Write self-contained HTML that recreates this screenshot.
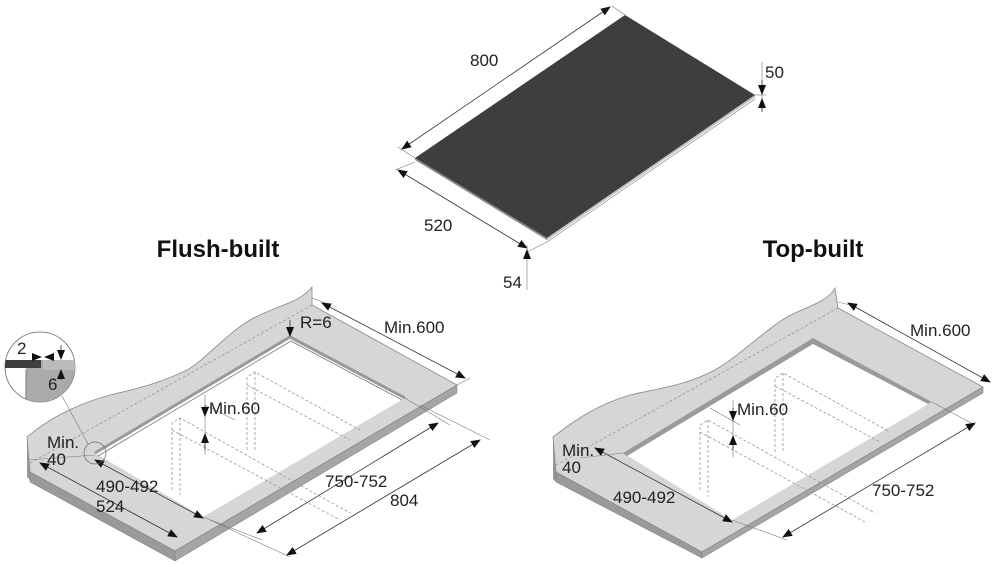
<!DOCTYPE html>
<html><head><meta charset="utf-8"><style>
html,body{margin:0;padding:0;background:#fff;}
svg{display:block;font-family:"Liberation Sans",sans-serif;}
.t{font-size:17px;fill:#222;}
.d{stroke:#333;stroke-width:0.8;fill:none;}
.e{stroke:#777;stroke-width:0.6;fill:none;}
.ds{stroke:#999;stroke-width:0.8;fill:none;stroke-dasharray:3,2;}
</style></head><body>
<svg width="1000" height="565" viewBox="0 0 1000 565">
<defs>
<marker id="a" markerWidth="10" markerHeight="8" refX="9" refY="4" orient="auto-start-reverse" markerUnits="userSpaceOnUse"><path d="M0,0 L10,4 L0,8z" fill="#111"/></marker>
</defs>

<!-- Top hob -->
<polygon points="415,158 625,15 755,95 547,238" fill="#3e3e40"/>
<polygon points="415,158 547,238 547,240 415,160" fill="#888"/>
<polygon points="547,238 755,95 755,97 547,240" fill="#ccc" stroke="#999" stroke-width="0.4"/>
<line class="e" x1="415" y1="158" x2="398" y2="147"/>
<line class="e" x1="625" y1="15" x2="612" y2="6"/>
<line class="d" x1="402" y1="149" x2="610" y2="7" marker-start="url(#a)" marker-end="url(#a)"/>
<line class="e" x1="415" y1="162" x2="395" y2="170"/>
<line class="e" x1="547" y1="242" x2="527" y2="252"/>
<line class="d" x1="398" y1="170" x2="527" y2="248" marker-start="url(#a)" marker-end="url(#a)"/>
<line class="e" x1="755" y1="99" x2="547" y2="242"/>
<line class="e" x1="527" y1="245" x2="527" y2="290"/>
<line class="d" x1="527" y1="258" x2="527" y2="250" marker-end="url(#a)"/>
<line class="e" x1="755" y1="95" x2="766" y2="95"/>
<line class="e" x1="762" y1="62" x2="762" y2="112"/>
<line class="d" x1="762" y1="80" x2="762" y2="94" marker-end="url(#a)"/>
<line class="d" x1="762" y1="112" x2="762" y2="99" marker-end="url(#a)"/>
<text class="t" x="470" y="66" font-size="18">800</text>
<text class="t" x="765" y="78" font-size="18">50</text>
<text class="t" x="424" y="231" font-size="18">520</text>
<text class="t" x="503" y="288" font-size="18">54</text>

<text x="218" y="257" font-size="24" font-weight="bold" text-anchor="middle" fill="#111">Flush-built</text>
<text x="813" y="257" font-size="24" font-weight="bold" text-anchor="middle" fill="#111">Top-built</text>

<!-- Left countertop -->
<g>
<polygon points="27,437 30,440 30,480 27,477" fill="#999"/>
<polygon points="30,472 175,551 175,561 30,482" fill="#9a9a9a" stroke="#777" stroke-width="0.5"/>
<polygon points="175,551 457,385 457,393 175,561" fill="#a5a5a5" stroke="#777" stroke-width="0.5"/>
<path d="M27,437 C45,422 70,406 110,395 C140,388 160,383 187,370 C205,360 225,335 250,320 C275,306 300,303 312,287 L312,305 L457,385 L175,551 L30,472 Z" fill="#d6d6d6" stroke="#888" stroke-width="0.8"/>
<polygon points="95,453 290,337 405,398 203,517" fill="#fff"/>
<polyline points="95,453 290,337 405,398" fill="none" stroke="#999" stroke-width="3"/>
<polyline points="98,456 291,341 402,400" fill="none" stroke="#777" stroke-width="0.8"/>
<line class="ds" x1="30" y1="463" x2="312" y2="305" stroke="#aaa"/>
<path class="ds" d="M172,490 L172,423 L180,418 L350,513 M180,418 L180,495 M172,430 L340,520 M247,450 L247,377 L255,372 L360,430 M255,372 L255,450 M247,385 L350,440"/>
<line class="e" x1="205" y1="405" x2="235" y2="420"/>
<line class="e" x1="205" y1="395" x2="205" y2="455"/>
<line class="d" x1="205" y1="405" x2="205" y2="416" marker-end="url(#a)"/>
<line class="d" x1="205" y1="450" x2="205" y2="434" marker-end="url(#a)"/>
<text class="t" x="209" y="414">Min.60</text>
<line class="d" x1="290" y1="320" x2="290" y2="336" marker-end="url(#a)"/>
<text class="t" x="300" y="328">R=6</text>
<line class="e" x1="312" y1="298" x2="325" y2="303"/>
<line class="e" x1="457" y1="385" x2="470" y2="378"/>
<line class="d" x1="322" y1="303" x2="465" y2="378" marker-start="url(#a)" marker-end="url(#a)"/>
<text class="t" x="384" y="333">Min.600</text>
<line class="e" x1="405" y1="398" x2="450" y2="425"/>
<line class="e" x1="420" y1="405" x2="490" y2="440"/>
<line class="e" x1="203" y1="517" x2="262" y2="540"/>
<line class="e" x1="210" y1="520" x2="290" y2="557"/>
<line class="d" x1="257" y1="533" x2="438" y2="423" marker-start="url(#a)" marker-end="url(#a)"/>
<line class="d" x1="287" y1="555" x2="480" y2="440" marker-start="url(#a)" marker-end="url(#a)"/>
<text class="t" x="325" y="487">750-752</text>
<text class="t" x="390" y="506">804</text>
<line class="d" x1="95" y1="460" x2="203" y2="518" marker-start="url(#a)" marker-end="url(#a)"/>
<line class="d" x1="40" y1="463" x2="177" y2="537" marker-start="url(#a)" marker-end="url(#a)"/>
<line class="e" x1="27" y1="460" x2="95" y2="455"/>
<text class="t" x="96" y="492">490-492</text>
<text class="t" x="96" y="512">524</text>
<text class="t" x="47" y="448">Min.</text>
<text class="t" x="47" y="465">40</text>
<circle cx="95" cy="453" r="11" fill="none" stroke="#666" stroke-width="0.7"/>
<line class="e" x1="62" y1="396" x2="88" y2="444"/>
<circle cx="40" cy="367" r="35" fill="#fff" stroke="#666" stroke-width="0.8"/>
<clipPath id="cc"><circle cx="40" cy="367" r="35"/></clipPath>
<g clip-path="url(#cc)">
<rect x="26" y="360" width="60" height="42" fill="#aaa"/>
<rect x="43" y="360" width="40" height="10" fill="#bbb"/>
<rect x="0" y="360" width="41" height="8" fill="#3e3e40"/>
<line x1="26" y1="370" x2="26" y2="402" stroke="#777"/>
</g>
<line class="d" x1="34" y1="357" x2="41" y2="357" marker-end="url(#a)"/>
<line class="d" x1="53" y1="357" x2="45" y2="357" marker-end="url(#a)"/>
<line class="d" x1="61" y1="345" x2="61" y2="359" marker-end="url(#a)"/>
<line class="d" x1="61" y1="380" x2="61" y2="370" marker-end="url(#a)"/>
<text class="t" x="17" y="354">2</text>
<text class="t" x="48" y="390">6</text>
</g>

<!-- Right countertop -->
<g>
<polygon points="553,437 556,440 556,482 553,479" fill="#999"/>
<polygon points="556,472 702,552 702,558 556,482" fill="#9a9a9a" stroke="#777" stroke-width="0.5"/>
<polygon points="702,552 983,387 983,393 702,558" fill="#a5a5a5" stroke="#777" stroke-width="0.5"/>
<path d="M553,437 C570,424 595,405 630,395 C660,388 690,385 720,367 C740,355 765,330 787,317 C805,307 828,302 835,288 L838,308 L983,387 L702,552 L556,472 Z" fill="#d6d6d6" stroke="#888" stroke-width="0.8"/>
<polygon points="623,453 813,338 932,402 732,520" fill="#fff"/>
<polygon points="623,453 813,338 932,402 928,404 813,344 627,456" fill="#9a9a9a"/>
<line class="ds" x1="556" y1="465" x2="838" y2="308" stroke="#aaa"/>
<path class="ds" d="M700,490 L700,425 L708,420 L875,513 M708,420 L708,497 M700,432 L865,522 M775,452 L775,378 L783,373 L890,432 M783,373 L783,452 M775,386 L880,442"/>
<line class="e" x1="710" y1="408" x2="740" y2="425"/>
<line class="e" x1="733" y1="400" x2="733" y2="457"/>
<line class="d" x1="733" y1="408" x2="733" y2="420" marker-end="url(#a)"/>
<line class="d" x1="733" y1="450" x2="733" y2="436" marker-end="url(#a)"/>
<text class="t" x="737" y="415">Min.60</text>
<line class="e" x1="838" y1="302" x2="850" y2="305"/>
<line class="d" x1="848" y1="303" x2="990" y2="382" marker-start="url(#a)" marker-end="url(#a)"/>
<text class="t" x="910" y="336">Min.600</text>
<line class="e" x1="932" y1="402" x2="975" y2="425"/>
<line class="e" x1="732" y1="520" x2="787" y2="540"/>
<line class="d" x1="783" y1="537" x2="975" y2="423" marker-start="url(#a)" marker-end="url(#a)"/>
<text class="t" x="872" y="496">750-752</text>
<line class="d" x1="595" y1="448" x2="732" y2="522" marker-start="url(#a)" marker-end="url(#a)"/>
<line class="e" x1="580" y1="458" x2="623" y2="453"/>
<text class="t" x="613" y="503">490-492</text>
<text class="t" x="562" y="456">Min.</text>
<text class="t" x="562" y="473">40</text>
</g>
</svg>
</body></html>
